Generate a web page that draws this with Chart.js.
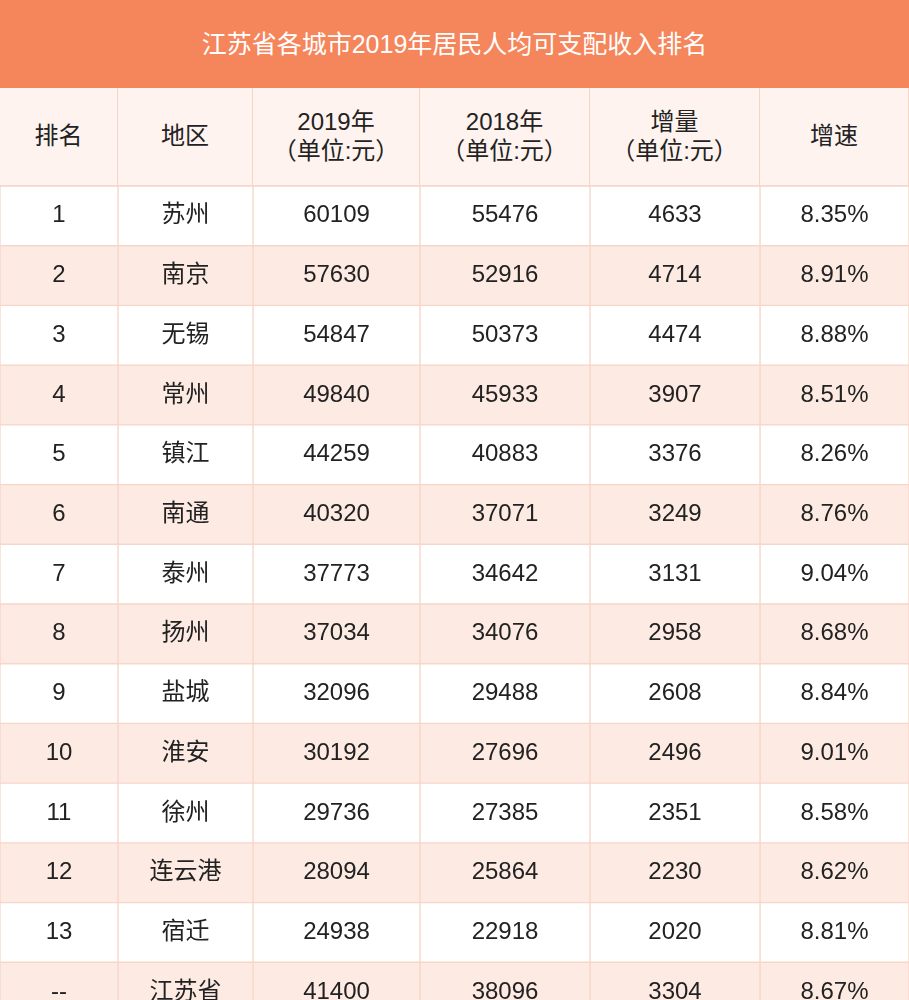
<!DOCTYPE html>
<html>
<head>
<meta charset="utf-8">
<script src="https://cdn.jsdelivr.net/npm/chart.js@4"></script>
<style>
  body { margin: 0; width: 909px; overflow: hidden; font-family: "Liberation Sans", "Noto Sans CJK SC", sans-serif; background: #fff; }
  .title { height: 88px; background: #F5855B; color: #fff; font-size: 25px; line-height: 88px; text-align: center; }
  .head { display: flex; height: 97px; background: #FEF3EE; border-bottom: 1px solid #F6D6C8; }
  .head div { display: flex; align-items: center; justify-content: center; text-align: center; font-size: 24px; color: #222; line-height: 1.2; border-right: 1px solid #F6D6C8; box-sizing: border-box; }
  #wrap { position: relative; width: 909px; height: 836px; }
</style>
</head>
<body>
<div class="title">江苏省各城市2019年居民人均可支配收入排名</div>
<div class="head" id="head"></div>
<div id="wrap"><canvas id="tbl"></canvas></div>
<script>
const headers = ['排名', '地区', '2019年<br>（单位:元）', '2018年<br>（单位:元）', '增量<br>（单位:元）', '增速'];
const ranks = ['1', '2', '3', '4', '5', '6', '7', '8', '9', '10', '11', '12', '13', '--'];
const cities = ['苏州', '南京', '无锡', '常州', '镇江', '南通', '泰州', '扬州', '盐城', '淮安', '徐州', '连云港', '宿迁', '江苏省'];
const income2019 = [60109, 57630, 54847, 49840, 44259, 40320, 37773, 37034, 32096, 30192, 29736, 28094, 24938, 41400];
const income2018 = [55476, 52916, 50373, 45933, 40883, 37071, 34642, 34076, 29488, 27696, 27385, 25864, 22918, 38096];
const increase = [4633, 4714, 4474, 3907, 3376, 3249, 3131, 2958, 2608, 2496, 2351, 2230, 2020, 3304];
const growth = ['8.35%', '8.91%', '8.88%', '8.51%', '8.26%', '8.76%', '9.04%', '8.68%', '8.84%', '9.01%', '8.58%', '8.62%', '8.81%', '8.67%'];

// column widths in px (layout only)
const colWidths = [118, 135, 167, 170, 170, 149];

const head = document.getElementById('head');
headers.forEach((h, i) => {
    const d = document.createElement('div');
    d.style.width = colWidths[i] + 'px';
    d.innerHTML = h;
    head.appendChild(d);
});

const columns = [ranks, cities, income2019, income2018, increase, growth];
const rowBg = ranks.map((r, i) => i % 2 === 0 ? '#FFFFFF' : '#FDEBE3');

const cellText = {
    id: 'cellText',
    afterDatasetsDraw(chart) {
        const ctx = chart.ctx;
        ctx.save();
        ctx.fillStyle = '#222';
        ctx.font = '24px "Liberation Sans", "Noto Sans CJK SC", sans-serif';
        ctx.textAlign = 'center';
        ctx.textBaseline = 'middle';
        chart.data.datasets.forEach((ds, di) => {
            chart.getDatasetMeta(di).data.forEach((bar, ri) => {
                const p = bar.getProps(['x', 'y', 'base'], true);
                ctx.fillText(String(columns[di][ri]), (p.x + p.base) / 2, p.y);
            });
        });
        ctx.restore();
    }
};

new Chart(document.getElementById('tbl'), {
    type: 'bar',
    data: {
        labels: ranks,
        datasets: columns.map((col, i) => ({
            data: ranks.map(() => colWidths[i]),
            backgroundColor: rowBg,
            borderColor: '#F6D6C8',
            borderWidth: 1,
            borderSkipped: false,
            barPercentage: 1,
            categoryPercentage: 1
        }))
    },
    options: {
        indexAxis: 'y',
        responsive: true,
        maintainAspectRatio: false,
        animation: false,
        layout: { padding: 0 },
        plugins: { legend: { display: false }, tooltip: { enabled: false } },
        scales: {
            x: { stacked: true, min: 0, max: 909, display: false },
            y: { stacked: true, display: false }
        }
    },
    plugins: [cellText]
});
</script>
</body>
</html>
